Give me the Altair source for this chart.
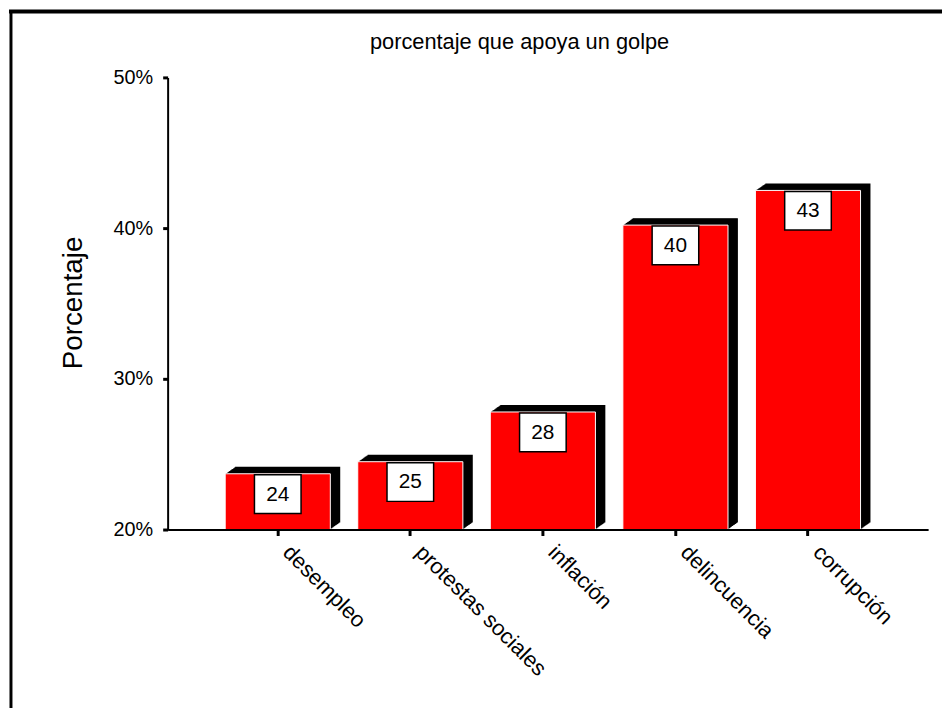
import altair as alt
import pandas as pd

categories = ["desempleo", "protestas sociales", "inflación", "delincuencia", "corrupción"]
values = [23.7, 24.5, 27.8, 40.2, 42.5]
labels = ["24", "25", "28", "40", "43"]
y_ticks = [20, 30, 40, 50]
title_text = "porcentaje que apoya un golpe"

df = pd.DataFrame({"cat": categories, "v": values, "lab": labels})

FONT = "Liberation Sans"

x_enc = alt.X(
    "cat:N",
    sort=categories,
    scale=alt.Scale(paddingInner=0.207, paddingOuter=0.472, align=0.46),
    axis=alt.Axis(
        title=None, tickSize=6, tickWidth=3, tickColor="black",
        domainColor="black", domainWidth=2, labelAngle=45, labelAlign="left",
        labelBaseline="middle", labelPadding=13, labelOffset=9, labelFontSize=22,
        labelColor="black", labelFont=FONT, zindex=1,
    ),
)
y_scale = alt.Scale(domain=[20, 50], nice=False, zero=False)
y_enc = alt.Y(
    "v:Q",
    scale=y_scale,
    axis=alt.Axis(
        values=y_ticks, title="Porcentaje", labelExpr="datum.value + '%'",
        tickSize=5, tickWidth=3, tickColor="black", domainColor="black",
        domainWidth=2, labelPadding=10, labelFontSize=20, labelColor="black",
        labelFont=FONT, grid=False, titleFont=FONT, titleFontSize=28,
        titleFontWeight="normal", titleColor="black", titleX=-95, titleY=227,
        titleAngle=-90, titleAlign="center", titleBaseline="middle", zindex=1,
    ),
)

base = alt.Chart(df)

layers = []
# 3D extrusion (black) built from stacked offset copies of each bar
for k in range(1, 11):
    dy = -0.7 * k
    layers.append(
        base.mark_bar(color="black", xOffset=k, yOffset=dy, y2Offset=dy).encode(
            x=x_enc, y=y_enc, y2=alt.datum(20)
        )
    )

front = base.mark_bar(color="#ff0000", stroke="white", strokeWidth=1).encode(
    x=x_enc, y=y_enc, y2=alt.datum(20)
)
layers.append(front)

boxes = base.mark_bar(
    size=47, color="white", stroke="black", strokeWidth=1.5, yOffset=1, y2Offset=40
).encode(x=x_enc, y=y_enc, y2=alt.Y2("v:Q"))
layers.append(boxes)

texts = base.mark_text(
    fontSize=21, font=FONT, color="black", baseline="middle", align="center", dy=21
).encode(x=x_enc, y=y_enc, text="lab:N")
layers.append(texts)

frame_df = pd.DataFrame({"a": [0]})
left_line = alt.Chart(frame_df).mark_rule(color="black", strokeWidth=3).encode(
    x=alt.value(-158), y=alt.value(-67), y2=alt.value(640)
)
top_line = alt.Chart(frame_df).mark_rule(color="black", strokeWidth=4).encode(
    x=alt.value(-160), x2=alt.value(790), y=alt.value(-66.5)
)
title_mark = alt.Chart(frame_df).mark_text(
    text=title_text, font=FONT, fontSize=22, color="black",
    align="left", baseline="alphabetic",
).encode(x=alt.value(204), y=alt.value(-29))
layers += [left_line, top_line, title_mark]

chart = alt.layer(*layers).properties(
    width=767,
    height=456,
    padding={"left": 161, "top": 67, "right": 14, "bottom": 177},
    autosize=alt.AutoSizeParams(type="none"),
    background="white",
).configure_view(stroke=None)

chart.save("out.html", embed_options={"renderer": "svg", "actions": False})
